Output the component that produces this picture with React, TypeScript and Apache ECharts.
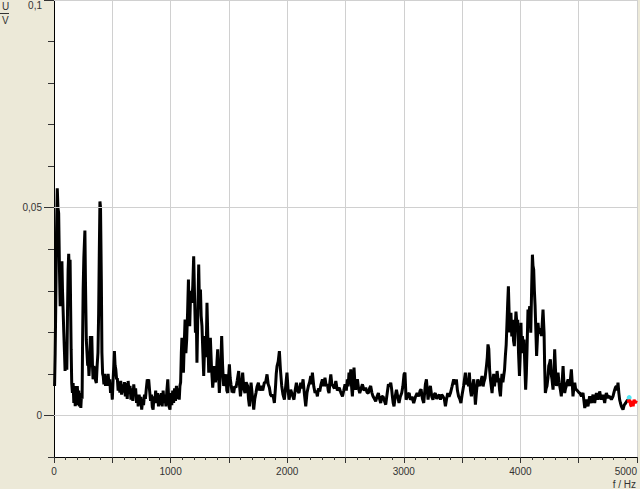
import React, { useEffect, useRef } from 'react';
import * as echarts from 'echarts';

// Spectrum: [frequency in Hz, amplitude in mV]
const band0to1k: [number, number][] = [
  [5, 7.1], [10, 15], [15, 26.3], [22, 45], [28, 54.7], [34, 50], [40, 48.7], [47, 35], [53, 26.3], [58, 33],
  [63, 30], [68, 37.1], [73, 30], [78, 25.5], [84, 20], [90, 15.1], [95, 10.7], [101, 15.9], [106, 14], [110, 11],
  [116, 25], [121, 35], [126, 38.9], [132, 34], [138, 37.5], [143, 25], [147, 15.9], [152, 7.8], [158, 5.4], [164, 7.8],
  [170, 3], [176, 7.1], [182, 2.2], [188, 6.7], [194, 2.5], [200, 7.1], [206, 3.5], [212, 6], [218, 2.2], [224, 5.4],
  [230, 1.8], [236, 5], [241, 4], [245, 17.5], [250, 30.3], [256, 38], [265, 44.5], [270, 32], [277, 18.3], [283, 18.3],
  [289, 12], [294, 13.5], [300, 9.5], [306, 12.7], [312, 19.1], [318, 15], [324, 19.1], [330, 12], [335, 8.7], [342, 11.9],
  [349, 10.5], [356, 8.5], [363, 7.8], [370, 12], [377, 15.1], [383, 24.7], [388, 38], [394, 51.5], [399, 50], [403, 40],
  [406, 32.7], [411, 15.1], [417, 10], [422, 9.5], [428, 7.5], [435, 10], [442, 7.1], [450, 9.5], [457, 7.1], [464, 10],
  [471, 7.8], [478, 8.7], [485, 5.4], [492, 7.5], [500, 3.8], [507, 8.7], [513, 12], [518, 15.5], [524, 12], [530, 11.1],
  [537, 8.7], [543, 9], [550, 6], [557, 8], [565, 5.5], [572, 8.3], [580, 5], [588, 7.5], [596, 5.5], [604, 8],
  [612, 4.6], [620, 7.8], [628, 4], [636, 8.3], [644, 5.4], [652, 7.1], [660, 3.8], [668, 6.5], [676, 3.5], [684, 7.5],
  [692, 5], [700, 6.5], [708, 3], [716, 5], [722, 2.2], [730, 5], [738, 3.5], [745, 4.5], [752, 1.4], [760, 3.5],
  [768, 2.5], [776, 5], [784, 4], [792, 6.5], [800, 8.7], [806, 7.5], [812, 8.7], [820, 6], [828, 3.5], [836, 5],
  [843, 2], [850, 1.4], [857, 4.6], [864, 3], [872, 6], [880, 3], [888, 5.4], [896, 2.2], [904, 5], [912, 2.5],
  [920, 5.4], [928, 2.2], [936, 6], [944, 3], [952, 5], [960, 2.2], [968, 6], [976, 8.7], [982, 5], [988, 2], [995, 1.4],
];

const band1kTo2k: [number, number][] = [
  [1002, 5.4], [1010, 2.5], [1018, 6], [1026, 3], [1034, 6.5], [1042, 3.5], [1050, 7.1], [1058, 4], [1066, 6.5], [1074, 3.8],
  [1080, 7.1], [1086, 8], [1092, 15], [1097, 18.7], [1103, 12], [1110, 10.3], [1117, 17], [1124, 23.1], [1131, 15], [1138, 18.3],
  [1146, 25], [1153, 32.7], [1158, 24], [1164, 21.5], [1172, 30], [1181, 27.1], [1190, 31], [1198, 38.3], [1206, 28], [1213, 19.9],
  [1220, 25], [1226, 12.7], [1234, 25], [1241, 36.3], [1248, 26], [1256, 30.3], [1262, 24], [1269, 21.5], [1277, 15], [1284, 9.5],
  [1291, 16], [1298, 19.1], [1305, 14], [1312, 27.1], [1320, 18], [1327, 10.3], [1334, 13], [1341, 18.7], [1350, 12], [1361, 6.7],
  [1368, 9], [1376, 11.9], [1384, 8], [1392, 9.5], [1398, 13], [1404, 15.9], [1411, 10], [1418, 5.4], [1425, 9], [1432, 13],
  [1438, 19.1], [1446, 12], [1455, 7.1], [1465, 9], [1475, 9.9], [1482, 6], [1490, 5.4], [1497, 9], [1504, 12.3], [1511, 9],
  [1518, 7.5], [1528, 5.5], [1535, 7], [1541, 5.4], [1550, 7], [1561, 6.7], [1572, 8.5], [1584, 10.7], [1592, 7], [1599, 4.6],
  [1608, 7], [1618, 10.3], [1628, 6.5], [1638, 5.4], [1648, 8], [1661, 7.1], [1668, 4], [1676, 2.2], [1683, 5], [1690, 7.9],
  [1700, 5], [1707, 3], [1713, 1.4], [1722, 4], [1732, 5.4], [1742, 7], [1753, 7.9], [1763, 6], [1775, 7.1], [1790, 6],
  [1804, 7.9], [1815, 8], [1827, 9.9], [1837, 7.5], [1847, 6.7], [1857, 5], [1867, 4.6], [1878, 5], [1890, 3], [1900, 7],
  [1906, 10], [1913, 11.9], [1923, 13], [1933, 15.5], [1942, 11], [1953, 7.1], [1964, 5], [1976, 3.8], [1987, 7], [1998, 10.3],
];

const band2kTo3k: [number, number][] = [
  [2008, 6], [2016, 3.8], [2023, 5], [2030, 6.2], [2044, 5], [2058, 3.8], [2068, 6], [2079, 7.9], [2090, 6], [2101, 5.4],
  [2108, 6.5], [2116, 7.9], [2126, 6.5], [2136, 8.7], [2148, 5], [2159, 2.2], [2170, 5.5], [2182, 7.1], [2192, 8], [2202, 9.5],
  [2209, 7.5], [2216, 10.3], [2228, 7], [2239, 5.4], [2248, 6], [2259, 4.6], [2268, 6.5], [2279, 5.8], [2290, 7.5], [2302, 8.7],
  [2312, 7], [2324, 9.1], [2335, 7], [2345, 7.5], [2352, 6], [2359, 5.4], [2366, 8], [2374, 9.9], [2383, 7.5], [2393, 7.1],
  [2405, 6.5], [2417, 8.3], [2430, 6], [2446, 6.7], [2460, 5.5], [2474, 4.6], [2485, 6], [2496, 7.5], [2507, 6], [2516, 8.7],
  [2523, 7], [2530, 10.3], [2538, 7.5], [2545, 11.1], [2552, 7], [2559, 4.6], [2566, 8], [2573, 11.5], [2580, 8], [2587, 6.2],
  [2595, 7.5], [2602, 8.7], [2612, 6.5], [2622, 5.4], [2634, 6.5], [2645, 7.5], [2660, 6], [2673, 6.7], [2685, 5.5], [2696, 5.4],
  [2706, 6.5], [2716, 7.1], [2726, 5.5], [2736, 4.6], [2748, 4], [2759, 3.4], [2770, 4.5], [2782, 5.4], [2792, 4], [2802, 3],
  [2812, 4.5], [2822, 4.6], [2834, 3.5], [2845, 2.6], [2856, 5], [2868, 7.5], [2878, 7], [2888, 7.9], [2895, 6.5], [2902, 4.6],
  [2909, 3], [2916, 2.2], [2926, 4.5], [2937, 6.2], [2948, 4.5], [2959, 3], [2970, 4.5], [2982, 5.4], [2992, 7],
];

const band3kTo4k: [number, number][] = [
  [3002, 9.9], [3010, 10.3], [3020, 3.8], [3035, 5], [3046, 5.4], [3056, 3.8], [3070, 4.5], [3085, 3], [3100, 4.5], [3114, 5.4],
  [3128, 4.6], [3140, 6], [3148, 6.3], [3160, 4], [3171, 3], [3185, 7.5], [3194, 8.7], [3208, 3.8], [3218, 6], [3228, 7.1],
  [3240, 4.5], [3250, 3.8], [3260, 5], [3270, 5.4], [3282, 4], [3293, 4.6], [3304, 5], [3314, 3.8], [3325, 5], [3336, 4.6],
  [3347, 4], [3357, 2.2], [3367, 4], [3377, 5.4], [3388, 4.5], [3400, 5.4], [3414, 7], [3428, 8.7], [3440, 7.5], [3451, 8.7],
  [3460, 6], [3470, 4.6], [3480, 4], [3490, 3], [3500, 5], [3513, 7.1], [3522, 9], [3528, 10.3], [3538, 7.5], [3548, 8.7],
  [3555, 7], [3562, 10.3], [3572, 6], [3580, 4.6], [3590, 7], [3600, 8.7], [3607, 6], [3614, 2.6], [3624, 6], [3634, 8.7],
  [3642, 7.5], [3651, 7.1], [3660, 8], [3671, 9.5], [3680, 7], [3686, 7.9], [3697, 9], [3709, 11.9], [3716, 14], [3722, 17.1],
  [3729, 16], [3736, 11], [3743, 8.7], [3750, 7], [3757, 5.4], [3764, 8], [3771, 10], [3778, 7], [3786, 9.5], [3793, 8],
  [3800, 10.7], [3807, 9], [3814, 8.7], [3822, 6], [3829, 4.6], [3836, 8], [3842, 10], [3850, 8], [3857, 9.5], [3864, 11],
  [3871, 14.3], [3878, 17], [3885, 22.3], [3891, 27], [3897, 31.1], [3903, 25], [3908, 20], [3914, 23], [3919, 24.7], [3926, 19],
  [3934, 23], [3941, 18], [3948, 16.7], [3955, 21], [3962, 25], [3970, 22], [3977, 23], [3984, 15], [3992, 9.5], [3998, 14],
];

const band4kTo5k: [number, number][] = [
  [4005, 22.3], [4010, 15], [4017, 19.1], [4024, 17], [4031, 18.3], [4038, 12], [4045, 6.2], [4051, 10], [4057, 15.9], [4065, 25.5],
  [4072, 24], [4080, 26.3], [4089, 19.9], [4096, 30], [4103, 38.7], [4108, 36], [4114, 35.1], [4120, 30], [4126, 26.3], [4133, 20],
  [4139, 14.3], [4145, 18], [4151, 22.3], [4158, 20], [4166, 19.9], [4173, 21], [4180, 19.1], [4187, 22], [4194, 25.5], [4203, 19.9],
  [4208, 12], [4214, 5.4], [4221, 6.5], [4228, 7.1], [4236, 9], [4243, 11.9], [4250, 12.5], [4257, 13.5], [4264, 10], [4271, 8.7],
  [4280, 6.2], [4287, 10], [4294, 15.9], [4301, 11], [4309, 7.1], [4316, 8], [4323, 10.3], [4330, 8], [4337, 7.1], [4344, 6],
  [4351, 4.6], [4358, 8], [4366, 11.9], [4373, 8], [4380, 5.4], [4387, 6.5], [4394, 7.1], [4402, 8], [4409, 8.7], [4416, 7.5],
  [4423, 7.1], [4430, 9], [4437, 11.1], [4444, 8], [4451, 4.6], [4458, 6.5], [4466, 7.9], [4473, 6.5], [4480, 6.2], [4487, 6],
  [4494, 5.8], [4502, 5.5], [4509, 5.4], [4516, 5], [4523, 4.6], [4530, 5], [4537, 5.4], [4545, 3.5], [4552, 1.8], [4559, 3],
  [4566, 3.8], [4573, 3], [4580, 2.2], [4587, 3.5], [4594, 4.6], [4602, 3.5], [4609, 3], [4616, 4.2], [4623, 5], [4630, 4],
  [4637, 3], [4645, 4.5], [4652, 5.4], [4659, 4.5], [4666, 3.8], [4673, 4.5], [4680, 5.8], [4688, 4.5], [4695, 3.8], [4702, 4.5],
  [4709, 5], [4716, 4], [4723, 3], [4730, 4.5], [4737, 5.4], [4745, 4.8], [4752, 4.2], [4759, 4.5], [4766, 4.6], [4773, 4.2],
  [4780, 3.8], [4787, 4.2], [4794, 4.6], [4801, 5.4], [4809, 6.2], [4816, 6.8], [4823, 7.1], [4830, 6], [4837, 7.9], [4844, 5.5],
  [4851, 3.8], [4858, 3], [4866, 2.2], [4873, 1.8], [4880, 1.4], [4890, 2.5], [4903, 3], [4913, 3.5], [4923, 3.8],
];

// Highlighted (cursor) segment at the end of the spectrum
const cursorSegment: [number, number][] = [
  [4923, 3.8], [4930, 3.2], [4937, 3.8], [4945, 2.5], [4952, 2.2], [4960, 3.5], [4967, 2.2], [4975, 3.8], [4985, 3], [4995, 3.6],
];
const cursorMarker: [number, number][] = [[4933, 4.3]];

const yLabelValues = [0, 0.05, 0.1];
const yGridValues = [0, 0.05, 0.1];
const xMin = 0;
const xMax = 5000;
const yMin = -0.01;
const yMax = 0.1;

const FONT = '"Liberation Sans Narrow", "Liberation Sans", Arial, sans-serif';

const toVolt = (pts: [number, number][]) => pts.map(([f, mv]) => [f, mv / 1000]);

export default function App() {
  const ref = useRef<HTMLDivElement>(null);

  useEffect(() => {
    if (!ref.current) return;
    const chart = echarts.init(ref.current, undefined, { renderer: 'svg' });
    const spectrum = toVolt([...band0to1k, ...band1kTo2k, ...band2kTo3k, ...band3kTo4k, ...band4kTo5k]);

    const option: any = {
      animation: false,
      backgroundColor: '#ECE9D8',
      textStyle: { fontFamily: FONT },
      grid: { left: 54, right: 3, top: 0, bottom: 32, show: true, backgroundColor: '#ffffff', borderWidth: 0 },
      xAxis: {
        type: 'value',
        min: xMin,
        max: xMax,
        interval: 500,
        axisLine: { show: true, onZero: false, lineStyle: { color: '#000', width: 1 } },
        axisTick: { show: true, length: 6, lineStyle: { color: '#333' } },
        minorTick: { show: true, splitNumber: 5, length: 3, lineStyle: { color: '#333' } },
        axisLabel: {
          margin: 9,
          fontSize: 10,
          color: '#333',
          fontFamily: FONT,
          alignMaxLabel: 'right',
          formatter: (v: number) => (v % 1000 === 0 ? String(v) : ''),
        },
        splitLine: { show: true, lineStyle: { color: '#d0d0d0', width: 1 } },
        minorSplitLine: { show: false },
      },
      yAxis: [
        {
          type: 'value',
          min: yMin,
          max: yMax,
          interval: 0.01,
          axisLine: { show: true, onZero: false, lineStyle: { color: '#000', width: 1 } },
          axisTick: { show: true, length: 6, lineStyle: { color: '#333' } },
          axisLabel: { show: false },
          splitLine: { show: false },
        },
        {
          type: 'value',
          min: yMin,
          max: yMax,
          interval: 0.01,
          position: 'left',
          axisLine: { show: false, onZero: false },
          axisTick: { show: true, length: 10, customValues: yLabelValues, lineStyle: { color: '#333' } },
          axisLabel: {
            show: true,
            customValues: yLabelValues,
            margin: 12,
            fontSize: 10,
            color: '#333',
            fontFamily: FONT,
            verticalAlignMaxLabel: 'top',
            formatter: (v: number) => String(v).replace('.', ','),
          },
          splitLine: { show: false },
        },
      ],
      series: [
        {
          type: 'line',
          yAxisIndex: 0,
          data: [[0, 0]],
          showSymbol: false,
          silent: true,
          lineStyle: { opacity: 0 },
          z: 1,
          markLine: {
            silent: true,
            animation: false,
            symbol: ['none', 'none'],
            label: { show: false },
            lineStyle: { color: '#d0d0d0', width: 1, type: 'solid' },
            data: yGridValues.map((v) => ({ yAxis: v })),
          },
        },
        {
          type: 'line',
          yAxisIndex: 0,
          data: spectrum,
          showSymbol: false,
          silent: true,
          lineStyle: { color: '#000', width: 3 },
          z: 3,
        },
        {
          type: 'scatter',
          yAxisIndex: 0,
          data: toVolt(cursorMarker),
          symbolSize: 5,
          silent: true,
          itemStyle: { color: '#22e0f0' },
          z: 4,
        },
        {
          type: 'line',
          yAxisIndex: 0,
          data: toVolt(cursorSegment),
          showSymbol: false,
          silent: true,
          lineStyle: { color: '#ff0000', width: 3 },
          z: 5,
        },
      ],
      graphic: [
        { type: 'text', left: 2, top: 1, style: { text: 'U', fontSize: 10, fill: '#333', fontFamily: FONT } },
        { type: 'line', shape: { x1: 0, y1: 13.5, x2: 9, y2: 13.5 }, style: { stroke: '#333', lineWidth: 1 } },
        { type: 'text', left: 2, top: 15, style: { text: 'V', fontSize: 10, fill: '#333', fontFamily: FONT } },
        {
          type: 'text',
          x: 636,
          y: 484,
          style: { text: 'f / Hz', fontSize: 10, fill: '#333', fontFamily: FONT, align: 'right', verticalAlign: 'middle' },
        },
      ],
    };

    chart.setOption(option);
    return () => chart.dispose();
  }, []);

  return <div ref={ref} style={{ position: 'absolute', left: 0, top: 0, width: 640, height: 489 }} />;
}
